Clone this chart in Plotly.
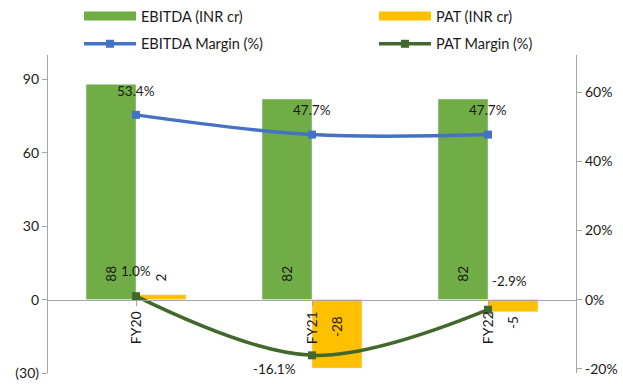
import plotly.graph_objects as go

categories = ["FY20", "FY21", "FY22"]
ebitda = [88, 82, 82]
pat = [2, -28, -5]
ebitda_margin = [53.4, 47.7, 47.7]
pat_margin = [1.0, -16.1, -2.9]

left_ticks = [-30, 0, 30, 60, 90]
left_ticktext = ["(30)", "0", "30", "60", "90"]
right_ticks = [-20, 0, 20, 40, 60]
right_ticktext = ["-20%", "0%", "20%", "40%", "60%"]

C_EBITDA = "#70AD47"
C_PAT = "#FFC000"
C_EM = "#4472C4"
C_PM = "#43682B"
FONT = "Lato"
TXT = "#1a1a1a"

idx = list(range(len(categories)))
fig = go.Figure()

fig.add_trace(go.Bar(x=idx, y=ebitda, marker_color=C_EBITDA, showlegend=False, name="EBITDA (INR cr)"))
fig.add_trace(go.Bar(x=idx, y=pat, marker_color=C_PAT, showlegend=False, name="PAT (INR cr)"))
fig.add_trace(go.Scatter(x=idx, y=ebitda_margin, yaxis="y2", mode="lines+markers",
                         line=dict(color=C_EM, width=3.5, shape="spline"),
                         marker=dict(symbol="square", size=8, color=C_EM),
                         showlegend=False))
fig.add_trace(go.Scatter(x=idx, y=pat_margin, yaxis="y2", mode="lines+markers",
                         line=dict(color=C_PM, width=3.5, shape="spline"),
                         marker=dict(symbol="square", size=8, color=C_PM),
                         showlegend=False))

# legend-only entries
fig.add_trace(go.Scatter(x=[None], y=[None], mode="lines", name="EBITDA (INR cr)",
                         line=dict(color=C_EBITDA, width=9), legend="legend", legendgroup="a"))
fig.add_trace(go.Scatter(x=[None], y=[None], mode="lines+markers", name="EBITDA Margin (%)",
                         line=dict(color=C_EM, width=3.5), legend="legend", legendgroup="b",
                         marker=dict(symbol="square", size=8, color=C_EM)))
fig.add_trace(go.Scatter(x=[None], y=[None], mode="lines", name="PAT (INR cr)",
                         line=dict(color=C_PAT, width=9), legend="legend2", legendgroup="c"))
fig.add_trace(go.Scatter(x=[None], y=[None], mode="lines+markers", name="PAT Margin (%)",
                         line=dict(color=C_PM, width=3.5), legend="legend2", legendgroup="d",
                         marker=dict(symbol="square", size=8, color=C_PM)))

off = 0.142
ann = []
for i, v in enumerate(ebitda):
    ann.append(dict(x=i - off, y=0, xref="x", yref="y", text=str(v), textangle=-90,
                    showarrow=False, yanchor="bottom", yshift=16))
for i, v in enumerate(pat):
    ann.append(dict(x=i + off, y=0, xref="x", yref="y", text=str(v), textangle=-90,
                    showarrow=False, yanchor="bottom" if v >= 0 else "top",
                    yshift=16 if v >= 0 else -14))
em_shift = [(0, 24), (0, 25), (0, 25)]
for i, v in enumerate(ebitda_margin):
    ann.append(dict(x=i, y=v, xref="x", yref="y2", text=f"{v:.1f}%", showarrow=False,
                    xshift=em_shift[i][0], yshift=em_shift[i][1]))
pm_shift = [(0, 25), (-38, -14), (21, 29)]
for i, v in enumerate(pat_margin):
    ann.append(dict(x=i, y=v, xref="x", yref="y2", text=f"{v:.1f}%", showarrow=False,
                    xshift=pm_shift[i][0], yshift=pm_shift[i][1]))

leg_common = dict(orientation="v", xanchor="left", yanchor="top", xref="container",
                  yref="container", itemwidth=52, tracegroupgap=6,
                  font=dict(size=14.5, family=FONT, color=TXT), bgcolor="rgba(0,0,0,0)")

axis_common = dict(showline=True, linecolor="#A6A6A6", linewidth=1.3, ticks="outside",
                   ticklen=5, tickcolor="#A6A6A6", showgrid=False, zeroline=False,
                   tickfont=dict(size=14, family=FONT, color=TXT))

fig.update_layout(
    width=623, height=384,
    margin=dict(l=48, r=47, t=55, b=11, autoexpand=False),
    plot_bgcolor="white", paper_bgcolor="white",
    font=dict(family=FONT, size=13.5, color=TXT),
    barmode="group", bargap=0.432, bargroupgap=0,
    annotations=ann,
    legend=dict(x=79 / 623, y=1.0, **leg_common),
    legend2=dict(x=374 / 623, y=1.0, **leg_common),
    xaxis=dict(tickmode="array", tickvals=idx, ticktext=categories, tickangle=-90,
               range=[-0.5, 2.5], anchor="free", position=30 / 130,
               tickson="boundaries", **axis_common),
    yaxis=dict(range=[-30, 100], tickmode="array", tickvals=left_ticks,
               ticktext=left_ticktext, **axis_common),
    yaxis2=dict(range=[-21.2, 70.7], tickmode="array", tickvals=right_ticks,
                ticktext=right_ticktext, overlaying="y", side="right", **axis_common),
)

fig.write_html("out.html")
